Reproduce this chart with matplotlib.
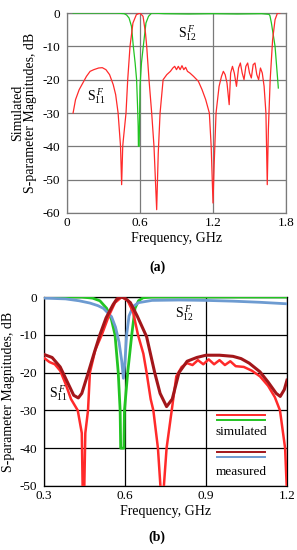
import numpy as np
import matplotlib
matplotlib.use("Agg")
import matplotlib.pyplot as plt
from matplotlib.lines import Line2D

plt.rcParams['font.family'] = ['Liberation Serif', 'DejaVu Serif']
plt.rcParams['axes.unicode_minus'] = False
plt.rcParams['mathtext.fontset'] = 'custom'
plt.rcParams['mathtext.rm'] = 'Liberation Serif'
plt.rcParams['mathtext.it'] = 'Liberation Serif:italic'

# ---- panel (a): simulated ----
a_s11_f = [0.05, 0.07, 0.10, 0.13, 0.16, 0.19, 0.22, 0.26, 0.29, 0.32, 0.35, 0.38, 0.40, 0.42,
           0.44, 0.449, 0.458, 0.463, 0.485, 0.499, 0.518, 0.542, 0.57, 0.60, 0.625, 0.645,
           0.655, 0.674, 0.696, 0.715, 0.737, 0.75, 0.765, 0.79, 0.82, 0.85, 0.87, 0.885, 0.90,
           0.915, 0.93, 0.945, 0.96, 0.975, 0.99, 1.01, 1.04, 1.08, 1.11, 1.14, 1.17, 1.185,
           1.20, 1.21, 1.225, 1.25, 1.27, 1.285, 1.30, 1.315, 1.333, 1.345, 1.36, 1.375, 1.393,
           1.41, 1.425, 1.44, 1.455, 1.47, 1.485, 1.50, 1.515, 1.53, 1.545, 1.56, 1.575, 1.59,
           1.605, 1.62, 1.635, 1.646, 1.655, 1.67, 1.69, 1.71, 1.73, 1.75]
a_s11_db = [-30, -26, -23, -21, -19, -17.5, -17, -16.5, -16.4, -17, -18.5, -21.5, -24.5, -30,
            -40, -51.5, -40, -38, -30, -20, -10, -3, -0.5, 0, -1, -6,
            -10, -20, -30, -40, -59, -42, -30, -20, -18.5, -17.5, -16.5, -16, -17,
            -16, -17, -15.8, -17, -16.3, -17.5, -18, -19, -20.5, -23, -26, -30, -40,
            -57, -45, -30, -22, -19, -17.5, -18.5, -21, -27.5, -18, -16, -18, -22,
            -16.5, -15, -18, -20, -16, -15, -18, -19.5, -15.5, -15, -18.5, -20, -16.5,
            -18, -22, -30, -51.5, -35, -20, -8, -2, 0, 0]

a_s12_f = [0.05, 0.2, 0.4, 0.47, 0.49, 0.51, 0.53, 0.545, 0.56, 0.572, 0.58, 0.585, 0.587,
           0.593, 0.597, 0.60, 0.612, 0.627, 0.649, 0.67, 0.696, 0.8, 1.0, 1.2, 1.4, 1.6,
           1.66, 1.668, 1.68, 1.71, 1.737]
a_s12_db = [0, 0, 0, -0.2, -0.6, -1.5, -4, -10, -15, -20, -28, -34, -40,
            -40, -30, -22, -15, -10, -3, -1, 0, -0.2, -0.3, -0.2, -0.3, -0.2,
            -0.4, -0.8, -3, -10, -22.5]

# ---- panel (b): simulated vs measured ----
b_sim11_f = [0.30, 0.32, 0.34, 0.36, 0.38, 0.40, 0.425, 0.44, 0.443, 0.448, 0.453, 0.463,
             0.47, 0.49, 0.514, 0.54, 0.563, 0.588, 0.61, 0.63, 0.648, 0.668, 0.68, 0.695,
             0.705, 0.722, 0.733, 0.742, 0.754, 0.773, 0.79, 0.81, 0.83, 0.85, 0.87, 0.89,
             0.91, 0.93, 0.95, 0.97, 0.99, 1.01, 1.04, 1.07, 1.10, 1.13, 1.155, 1.174, 1.193,
             1.20]
b_sim11_db = [-16.1, -17.2, -17.8, -19.5, -23, -27, -30, -36, -50, -55, -36, -30,
              -20, -14, -10, -5, -1.5, 0, -1, -4, -10, -15, -20, -27,
              -30, -40, -52, -52, -40, -30, -21, -18.5, -17.5, -18, -16.7, -17.8,
              -16.5, -17.8, -16.7, -18, -17, -18.3, -18.5, -19.5, -21, -23.5, -26.5, -30, -40,
              -52]

b_meas11_f = [0.30, 0.33, 0.36, 0.39, 0.41, 0.427, 0.44, 0.464, 0.485, 0.507, 0.53, 0.556,
              0.57, 0.585, 0.60, 0.62, 0.645, 0.68, 0.71, 0.73, 0.754, 0.775, 0.80, 0.83,
              0.866, 0.90, 0.95, 1.00, 1.03, 1.06, 1.10, 1.13, 1.16, 1.175, 1.19, 1.20]
b_meas11_db = [-15.2, -16, -18.5, -23, -26, -26.7, -25.5, -20, -15, -10, -5.5, -2,
               -0.5, 0, -0.3, -1.5, -5, -10.5, -20, -25.5, -29, -27, -20, -17,
               -16, -15.4, -15.4, -15.7, -16.3, -17.5, -19.8, -22.5, -25.5, -26.3, -24.5, -22]

b_sim12_f = [0.30, 0.44, 0.48, 0.507, 0.532, 0.55, 0.563, 0.575, 0.582, 0.584, 0.596, 0.598,
             0.61, 0.625, 0.637, 0.65, 0.667, 0.70, 1.20]
b_sim12_db = [0, 0, -0.3, -1, -3, -6, -10, -20, -30, -40, -40, -30,
              -20, -10, -3, -1, -0.2, 0, 0]

b_meas12_f = [0.30, 0.38, 0.43, 0.47, 0.50, 0.52, 0.55, 0.565, 0.578, 0.588, 0.594, 0.60,
              0.606, 0.615, 0.63, 0.65, 0.70, 0.80, 0.90, 1.00, 1.10, 1.20]
b_meas12_db = [-0.3, -0.5, -1, -1.6, -2.3, -3, -5.2, -8, -12, -17, -21.5, -17,
               -10, -5, -2.5, -1.5, -0.9, -0.8, -0.9, -1.1, -1.4, -1.8]

red = '#ff2a2a'
green = '#22c422'
darkred = '#a3161a'
blue = '#6d9bd1'

fig = plt.figure(figsize=(2.97, 5.5), dpi=100)
W, H = 297.0, 550.0

# panel (a)
ax1 = fig.add_axes([67 / W, 1 - 213 / H, 219 / W, 200 / H])
ax1.plot(a_s12_f, a_s12_db, color=green, lw=0.9, zorder=3)
ax1.plot(a_s11_f, a_s11_db, color=red, lw=0.9, zorder=4)
ax1.set_xlim(0, 1.8)
ax1.set_ylim(-60, 0)
ax1.set_xticks([0, 0.6, 1.2, 1.8])
ax1.set_xticklabels(['0', '0.6', '1.2', '1.8'])
ax1.set_yticks(range(-60, 1, 10))
ax1.set_yticklabels([str(v) for v in range(-60, 1, 10)])
ax1.tick_params(length=0, labelsize=9.5, pad=5)
ax1.tick_params(axis='x', pad=3)
ax1.grid(True, color='#7a7a7a', lw=0.9)
for s in ax1.spines.values():
    s.set_color('#7a7a7a')
    s.set_linewidth(0.9)
ax1.set_xlabel('Frequency, GHz', fontsize=10, labelpad=2)
ax1.set_ylabel('Simulated\nS-parameter Magnitudes, dB', fontsize=10, labelpad=4, linespacing=1.0)
ax1.text(0.99, -6, r'$\mathrm{S}_{12}^{\,F}$', fontsize=10, ha='center', va='center')
ax1.text(0.245, -25, r'$\mathrm{S}_{11}^{\,F}$', fontsize=10, ha='center', va='center')
fig.text(157 / W, 1 - 267 / H, '(a)', fontsize=10, fontweight='bold', ha='center', va='center')

# panel (b)
ax2 = fig.add_axes([44 / W, 1 - 486 / H, 243 / W, 189 / H])
ax2.plot(b_sim12_f, b_sim12_db, color=green, lw=2.0, zorder=3)
ax2.plot(b_meas12_f, b_meas12_db, color=blue, lw=2.0, zorder=4)
ax2.plot(b_sim11_f, b_sim11_db, color=red, lw=1.8, zorder=5)
ax2.plot(b_meas11_f, b_meas11_db, color=darkred, lw=2.2, zorder=6)
ax2.set_xlim(0.3, 1.2)
ax2.set_ylim(-50, 0)
ax2.set_xticks([0.3, 0.6, 0.9, 1.2])
ax2.set_xticklabels(['0.3', '0.6', '0.9', '1.2'])
ax2.set_yticks(range(-50, 1, 10))
ax2.set_yticklabels([str(v) for v in range(-50, 1, 10)])
ax2.tick_params(length=0, labelsize=9.5, pad=5)
ax2.tick_params(axis='x', pad=3)
ax2.grid(True, color='black', lw=0.9)
for s in ax2.spines.values():
    s.set_color('black')
    s.set_linewidth(0.9)
ax2.set_xlabel('Frequency, GHz', fontsize=10, labelpad=2)
ax2.set_ylabel('S-parameter Magnitudes, dB', fontsize=10, labelpad=3)
ax2.text(0.822, -4.2, r'$\mathrm{S}_{12}^{\,F}$', fontsize=10, ha='center', va='center', zorder=7)
ax2.text(0.352, -25.5, r'$\mathrm{S}_{11}^{\,F}$', fontsize=10, ha='center', va='center', zorder=7)

# hand-drawn style legend inside lower right
tr = ax2.transAxes
lx0, lx1 = (217 - 44) / 243, (265 - 44) / 243
def ly(py):
    return (486 - py) / 189
for py, c in [(415, red), (419.5, green), (452, darkred), (456.5, blue)]:
    ax2.add_line(Line2D([lx0, lx1], [ly(py), ly(py)], transform=tr, color=c, lw=1.4, zorder=8))
ax2.text((lx0 + lx1) / 2, ly(432), 'simulated', transform=tr, fontsize=9.5, ha='center', va='center', zorder=8)
ax2.text((lx0 + lx1) / 2, ly(472), 'measured', transform=tr, fontsize=9.5, ha='center', va='center', zorder=8)
fig.text(157 / W, 1 - 537 / H, '(b)', fontsize=10, fontweight='bold', ha='center', va='center')

fig.savefig('out.png', dpi=100)
